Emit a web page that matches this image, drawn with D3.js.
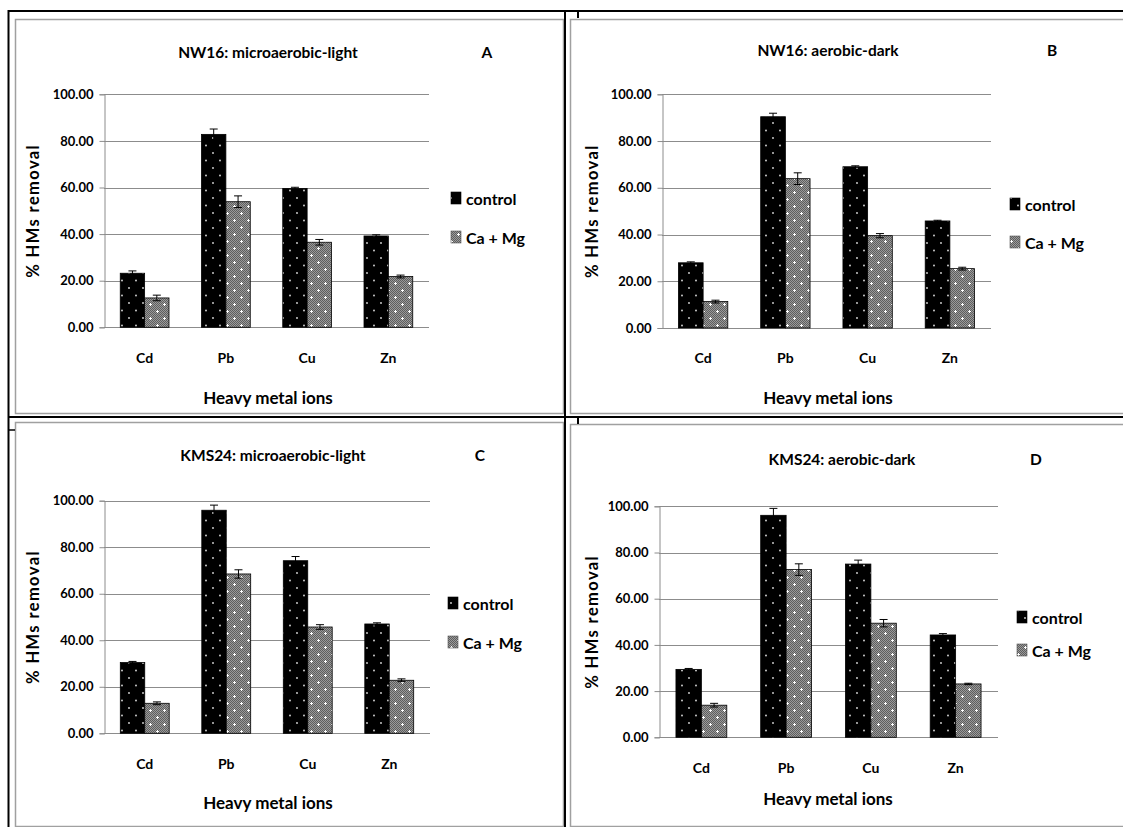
<!DOCTYPE html>
<html><head><meta charset="utf-8">
<script src="https://cdn.jsdelivr.net/npm/d3@7"></script>
<style>
body{margin:0;background:#fff;}
svg text{font-family:Lato,"Open Sans",sans-serif;font-weight:700;fill:#000;}
</style></head>
<body>
<svg id="chart" width="1123" height="827"></svg>
<script>
// ---- data ----
const categories = ["Cd", "Pb", "Cu", "Zn"];
const seriesNames = ["control", "Ca + Mg"];
const yTicks = [0, 20, 40, 60, 80, 100];
const panelTitles = ["NW16: microaerobic-light", "NW16: aerobic-dark", "KMS24: microaerobic-light", "KMS24: aerobic-dark"];
const panelLetters = ["A", "B", "C", "D"];
const xTitle = "Heavy metal ions";
const yTitle = "% HMs removal";

const controlA = [23.2, 82.8, 59.6, 39.2];
const caMgA    = [12.6, 53.9, 36.5, 21.8];
const errControlA = [1.0, 2.3, 0.5, 0.5];
const errCaMgA    = [1.2, 2.5, 1.2, 0.6];

const controlB = [27.9, 90.4, 69.0, 45.8];
const caMgB    = [11.3, 63.9, 39.5, 25.4];
const errControlB = [0.4, 1.5, 0.4, 0.3];
const errCaMgB    = [0.6, 2.5, 0.9, 0.6];

const controlC = [30.4, 95.9, 74.2, 47.0];
const caMgC    = [12.9, 68.5, 45.7, 22.8];
const errControlC = [0.5, 2.2, 1.8, 0.5];
const errCaMgC    = [0.6, 1.8, 1.0, 0.6];

const controlD = [29.4, 96.1, 75.0, 44.3];
const caMgD    = [13.9, 72.6, 49.4, 23.1];
const errControlD = [0.4, 3.0, 1.7, 0.6];
const errCaMgD    = [0.8, 2.5, 1.6, 0.3];

// ---- layout (positions only) ----
const layouts = [
  {x0:104, x1:429, yTop:94.3, yBot:327.3, titleX:268, titleY:52, letterX:487, tickY:357, xTitleY:397, xTitleX:268, yTitleX:33, legX:451, legY:[198,237]},
  {x0:662, x1:991, yTop:94.3, yBot:328,   titleX:828, titleY:50, letterX:1052, tickY:357, xTitleY:397, xTitleX:828, yTitleX:592, legX:1010, legY:[204,242]},
  {x0:104, x1:430, yTop:500.7, yBot:733.3, titleX:273, titleY:455, letterX:480, tickY:763, xTitleY:802, xTitleX:268, yTitleX:33, legX:448, legY:[603,642]},
  {x0:659, x1:998, yTop:506.3, yBot:737.3, titleX:842, titleY:459, letterX:1036, tickY:767, xTitleY:798, xTitleX:828, yTitleX:592, legX:1017, legY:[617,650]}
];
const panelValues = [[controlA, caMgA], [controlB, caMgB], [controlC, caMgC], [controlD, caMgD]];
const panelErrors = [[errControlA, errCaMgA], [errControlB, errCaMgB], [errControlC, errCaMgC], [errControlD, errCaMgD]];

const svg = d3.select("#chart");
const defs = svg.append("defs");

// control pattern: black with white dots
const p1 = defs.append("pattern").attr("id","dots").attr("patternUnits","userSpaceOnUse")
  .attr("width",14).attr("height",15);
p1.append("rect").attr("width",14).attr("height",15).attr("fill","#000");
p1.append("circle").attr("cx",3).attr("cy",3).attr("r",0.9).attr("fill","#ddd");
p1.append("circle").attr("cx",10).attr("cy",10.5).attr("r",0.9).attr("fill","#ddd");

// Ca+Mg pattern: mid-grey fine texture plus white crosses
const p2 = defs.append("pattern").attr("id","checker").attr("patternUnits","userSpaceOnUse")
  .attr("width",14).attr("height",14);
p2.append("rect").attr("width",14).attr("height",14).attr("fill","#9a9a9a");
for (let i = 0; i < 14; i++) for (let j = 0; j < 14; j++) {
  if ((i + j) % 2 === 0) p2.append("rect").attr("x",i).attr("y",j).attr("width",1).attr("height",1).attr("fill","#5e5e5e");
}
[[3,3],[10,10]].forEach(([cx,cy]) => {
  p2.append("rect").attr("x",cx-1).attr("y",cy).attr("width",3).attr("height",1).attr("fill","#fff");
  p2.append("rect").attr("x",cx).attr("y",cy-1).attr("width",1).attr("height",3).attr("fill","#fff");
});
const fills = ["url(#dots)", "url(#checker)"];

// ---- frames ----
const frame = svg.append("g");
[[15,19,548,394],[570,19,560,394],[15,422,548,404],[570,424,560,402]].forEach(r=>{
  frame.append("rect").attr("x",r[0]+0.5).attr("y",r[1]+0.5).attr("width",r[2]).attr("height",r[3])
    .attr("fill","none").attr("stroke","#a0a0a0").attr("stroke-width",1.5);
});
frame.append("line").attr("x1",8).attr("x2",1123).attr("y1",11).attr("y2",11).attr("stroke","#000").attr("stroke-width",2);
frame.append("line").attr("x1",8.5).attr("x2",8.5).attr("y1",10).attr("y2",827).attr("stroke","#000").attr("stroke-width",2);
frame.append("line").attr("x1",565).attr("x2",565).attr("y1",10).attr("y2",827).attr("stroke","#000").attr("stroke-width",2);
frame.append("line").attr("x1",8).attr("x2",1123).attr("y1",417).attr("y2",417).attr("stroke","#000").attr("stroke-width",2);
frame.append("line").attr("x1",578).attr("x2",578).attr("y1",11).attr("y2",18).attr("stroke","#000").attr("stroke-width",2);
frame.append("line").attr("x1",578).attr("x2",578).attr("y1",417).attr("y2",424).attr("stroke","#000").attr("stroke-width",2);
frame.append("line").attr("x1",8).attr("x2",15).attr("y1",430).attr("y2",430).attr("stroke","#000").attr("stroke-width",1.5);

// ---- panels ----
layouts.forEach((L, pi) => {
  const g = svg.append("g");
  const y = d3.scaleLinear().domain([0,100]).range([L.yBot, L.yTop]);
  const x = d3.scaleBand().domain(categories).range([L.x0, L.x1]).paddingInner(0.4).paddingOuter(0.2);
  const xs = d3.scaleBand().domain(seriesNames).range([0, x.bandwidth()]);

  // gridlines
  g.append("g").selectAll("line").data(yTicks).join("line")
    .attr("x1", L.x0).attr("x2", L.x1)
    .attr("y1", d => Math.round(y(d)) + 0.5).attr("y2", d => Math.round(y(d)) + 0.5)
    .attr("stroke", "#8c8c8c").attr("stroke-width", 1);

  // y axis
  const ya = g.append("g").attr("transform", `translate(${Math.round(L.x0)+0.5},0)`)
    .call(d3.axisLeft(y).tickValues(yTicks).tickFormat(d3.format(".2f")).tickSizeOuter(0).tickSize(5).tickPadding(6));
  ya.select(".domain").attr("stroke","#8c8c8c");
  ya.selectAll(".tick line").attr("stroke","#8c8c8c");
  ya.selectAll(".tick text").style("font-size","13px").attr("fill","#000");

  // bars
  seriesNames.forEach((s, si) => {
    const vals = panelValues[pi][si], errs = panelErrors[pi][si];
    g.append("g").selectAll("rect").data(categories).join("rect")
      .attr("x", (c) => x(c) + xs(s))
      .attr("y", (c, i) => y(vals[i]))
      .attr("width", xs.bandwidth())
      .attr("height", (c, i) => y(0) - y(vals[i]))
      .attr("fill", fills[si]).attr("stroke", "#000").attr("stroke-width", 0.8);
    const eg = g.append("g").attr("stroke","#000").attr("stroke-width",1);
    categories.forEach((c, i) => {
      const cx = x(c) + xs(s) + xs.bandwidth()/2;
      const yt = y(vals[i] + errs[i]), yb = y(vals[i] - errs[i]);
      eg.append("line").attr("x1",cx).attr("x2",cx).attr("y1",yt).attr("y2",yb);
      eg.append("line").attr("x1",cx-4).attr("x2",cx+4).attr("y1",yt).attr("y2",yt);
      eg.append("line").attr("x1",cx-4).attr("x2",cx+4).attr("y1",yb).attr("y2",yb);
    });
  });

  // x category labels
  g.append("g").selectAll("text").data(categories).join("text")
    .attr("x", c => x(c) + x.bandwidth()/2).attr("y", L.tickY)
    .attr("text-anchor","middle").attr("dominant-baseline","central")
    .style("font-size","14px").text(c => c);

  // titles
  g.append("text").attr("x", L.titleX).attr("y", L.titleY).attr("text-anchor","middle")
    .attr("dominant-baseline","central").style("font-size","15.5px").text(panelTitles[pi]);
  g.append("text").attr("x", L.letterX).attr("y", L.titleY).attr("text-anchor","middle")
    .attr("dominant-baseline","central").style("font-size","15.5px").text(panelLetters[pi]);
  g.append("text").attr("x", L.xTitleX).attr("y", L.xTitleY).attr("text-anchor","middle")
    .attr("dominant-baseline","central").style("font-size","17px").text(xTitle);
  const yc = (L.yTop + L.yBot) / 2;
  g.append("text").attr("transform", `translate(${L.yTitleX},${yc}) rotate(-90)`)
    .attr("text-anchor","middle").attr("dominant-baseline","central")
    .style("font-size","16.5px").style("letter-spacing","1.4px").text(yTitle);

  // legend
  seriesNames.forEach((s, si) => {
    g.append("rect").attr("x", L.legX).attr("y", L.legY[si] - 6).attr("width", 10).attr("height", 12)
      .attr("fill", fills[si]).attr("stroke", si === 1 ? "#555" : "#000").attr("stroke-width", 0.6);
    g.append("text").attr("x", L.legX + 15).attr("y", L.legY[si]).attr("dominant-baseline","central")
      .style("font-size","16px").text(s);
  });
});
</script>
</body></html>
